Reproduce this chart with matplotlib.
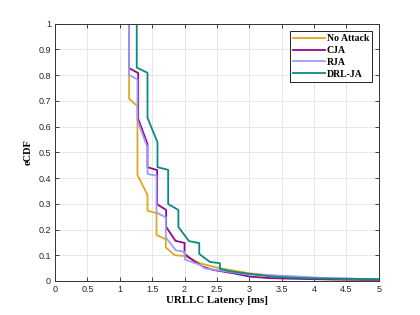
import matplotlib
matplotlib.use('Agg')
import matplotlib.pyplot as plt

# latency points (ms) and eCDF values
noAttackX = [1.144, 1.144, 1.273, 1.273, 1.428, 1.428, 1.567, 1.567, 1.711, 1.711, 1.85, 2.005,
             2.24, 2.5, 2.7, 3.0, 3.5, 4.0, 4.3, 4.75, 5.0]
noAttackY = [1.0, 0.708, 0.679, 0.412, 0.334, 0.273, 0.264, 0.179, 0.162, 0.130, 0.100, 0.097,
             0.069, 0.052, 0.043, 0.030, 0.018, 0.008, 0.005, 0.004, 0.004]

cjaX = [1.144, 1.144, 1.284, 1.284, 1.428, 1.428, 1.577, 1.577, 1.716, 1.716, 1.86, 2.0, 2.0,
        2.16, 2.29, 2.44, 2.75, 3.01, 3.32, 3.63, 4.0, 5.0]
cjaY = [1.0, 0.827, 0.808, 0.630, 0.532, 0.442, 0.431, 0.298, 0.276, 0.210, 0.156, 0.148, 0.105,
        0.075, 0.055, 0.043, 0.030, 0.017, 0.011, 0.009, 0.007, 0.004]

rjaX = [1.142, 1.142, 1.273, 1.273, 1.428, 1.428, 1.567, 1.567, 1.711, 1.711, 1.866, 2.005, 2.005,
        2.26, 2.31, 2.6, 2.96, 3.63, 4.14, 5.0]
rjaY = [1.0, 0.801, 0.783, 0.623, 0.519, 0.416, 0.409, 0.266, 0.247, 0.169, 0.119, 0.113, 0.084,
        0.060, 0.049, 0.039, 0.026, 0.019, 0.012, 0.006]

drlX = [1.262, 1.262, 1.428, 1.428, 1.582, 1.582, 1.747, 1.747, 1.905, 1.905, 2.068, 2.227, 2.227,
        2.392, 2.546, 2.546, 2.70, 2.958, 3.318, 3.63, 4.0, 5.0]
drlY = [1.0, 0.829, 0.809, 0.634, 0.539, 0.442, 0.432, 0.299, 0.276, 0.210, 0.155, 0.147, 0.105,
        0.074, 0.069, 0.047, 0.038, 0.029, 0.018, 0.013, 0.010, 0.007]

xTicks = [0, 0.5, 1, 1.5, 2, 2.5, 3, 3.5, 4, 4.5, 5]
yTicks = [0, 0.1, 0.2, 0.3, 0.4, 0.5, 0.6, 0.7, 0.8, 0.9, 1]

serif = ['Liberation Serif', 'DejaVu Serif']

def main():
    fig = plt.figure(figsize=(4.2, 3.15), dpi=100)
    ax = fig.add_axes([0.131, 0.108, 0.771, 0.817])

    lw = 1.3
    ax.plot(noAttackX, noAttackY, color='#E0A91D', lw=lw, label='No Attack')
    ax.plot(cjaX, cjaY, color='#8E0A8E', lw=lw, label='CJA')
    ax.plot(rjaX, rjaY, color='#9E9BFA', lw=lw, label='RJA')
    ax.plot(drlX, drlY, color='#0B8A84', lw=lw, label='DRL-JA')

    ax.set_xlim(0, 5)
    ax.set_ylim(0, 1)
    ax.set_xticks(xTicks)
    ax.set_yticks(yTicks)
    ax.set_xticklabels(['%g' % t for t in xTicks])
    ax.set_yticklabels(['%g' % t for t in yTicks])
    ax.tick_params(direction='in', top=True, right=True, length=3, width=0.6,
                   labelsize=6.5, colors='#262626', pad=3)
    for lbl in ax.get_xticklabels() + ax.get_yticklabels():
        lbl.set_family('Liberation Sans')
    ax.grid(True, color='#e3e3e3', lw=0.6)
    ax.set_axisbelow(True)
    for s in ax.spines.values():
        s.set_color('#333333')
        s.set_linewidth(0.7)

    ax.set_xlabel('URLLC Latency [ms]', family=serif, fontweight='bold', fontsize=7.8, labelpad=1.5)
    ax.set_ylabel('eCDF', family=serif, fontweight='bold', fontsize=7.5, labelpad=4)

    leg = ax.legend(loc='upper right', prop={'family': serif, 'weight': 'bold', 'size': 7},
                    fancybox=False, edgecolor='black', framealpha=1, handlelength=3.3,
                    borderpad=0.3, labelspacing=0.3, handletextpad=0.2, borderaxespad=0,
                    bbox_to_anchor=(0.979, 0.971))
    leg.get_frame().set_linewidth(0.6)

    fig.savefig('out.png', dpi=100)

if __name__ == "__main__":
    main()
